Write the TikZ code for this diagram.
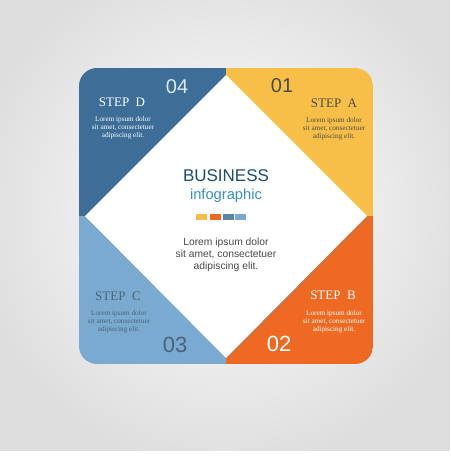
\documentclass[tikz,border=0pt]{standalone}
\usepackage{fontspec}
\setmainfont{Liberation Serif}
\newfontfamily\arialfont{Liberation Sans}
\usetikzlibrary{shadows}

\definecolor{stepA}{HTML}{F8BF48}
\definecolor{stepB}{HTML}{EE6A23}
\definecolor{stepC}{HTML}{7BAAD0}
\definecolor{stepD}{HTML}{3C6E98}
\definecolor{bizteal}{HTML}{1D4E6B}
\definecolor{infoblue}{HTML}{3B8EC2}
\definecolor{txtgray}{HTML}{4A4A4A}
\definecolor{slate}{HTML}{4A637A}
\definecolor{paleblue}{HTML}{DCE8F2}

\tikzset{
  steptitle/.style={font=\fontsize{13}{13}\selectfont, inner sep=0pt},
  steptext/.style={font=\fontsize{7.2}{8.2}\selectfont, align=center, inner sep=0pt},
  stepnum/.style={font=\arialfont\fontsize{20}{20}\selectfont, inner sep=0pt},
  bizsquare/.style={minimum width=11pt, minimum height=6pt, inner sep=0pt},
}

\begin{document}
\begin{tikzpicture}[x=1pt,y=-1pt]
  \useasboundingbox (0,0) rectangle (450,470);

  % background
  \fill[white] (0,0) rectangle (450,470);
  \begin{scope}
    \clip (0,0) rectangle (450,450);
    \shade[inner color=white, outer color=black!13] (-30,-50) rectangle (480,470);
  \end{scope}

  % four quadrants of the rounded square
  \begin{scope}
    \clip[rounded corners=18pt] (79,68) rectangle (373,364);
    \fill[stepD] (79,68) rectangle (226,216);
    \fill[stepA] (226,68) rectangle (373,216);
    \fill[stepC] (79,216) rectangle (226,364);
    \fill[stepB] (226,216) rectangle (373,364);
  \end{scope}

  % white diamond
  \fill[white, drop shadow={shadow xshift=1.5pt, shadow yshift=-2pt, opacity=.25}]
    (226,75) -- (367,216) -- (226,358) -- (85,216) -- cycle;

  % step D
  \node[stepnum, text=paleblue] (numD) at (177,87) {04};
  \node[steptitle, text=white] (titleD) at (122,102) {STEP\ \ D};
  \node[steptext, text=white] (textD) at (123,128) {Lorem ipsum dolor\\sit amet, consectetuer\\adipiscing elit.};

  % step A
  \node[stepnum, text=txtgray] (numA) at (282,86) {01};
  \node[steptitle, text=txtgray] (titleA) at (334,103) {STEP\ \ A};
  \node[steptext, text=txtgray] (textA) at (334,129) {Lorem ipsum dolor\\sit amet, consectetuer\\adipiscing elit.};

  % step C
  \node[steptitle, text=slate] (titleC) at (118,296) {STEP\ \ C};
  \node[steptext, text=slate] (textC) at (119,322) {Lorem ipsum dolor\\sit amet, consectetuer\\adipiscing elit.};
  \node[stepnum, text=slate, font=\arialfont\fontsize{22}{22}\selectfont] (numC) at (175,345) {03};

  % step B
  \node[steptitle, text=white] (titleB) at (333,295) {STEP\ \ B};
  \node[steptext, text=white] (textB) at (334,322) {Lorem ipsum dolor\\sit amet, consectetuer\\adipiscing elit.};
  \node[stepnum, text=white, font=\arialfont\fontsize{22}{22}\selectfont] (numB) at (279,344) {02};

  % centre
  \node[font=\arialfont\fontsize{17}{17}\selectfont, text=bizteal, inner sep=0pt] (business) at (226,176) {BUSINESS};
  \node[font=\arialfont\fontsize{14.7}{15}\selectfont, text=infoblue, inner sep=0pt] (infographic) at (226,196) {infographic};
  \node[bizsquare, fill=stepA] (sqA) at (201,217) {};
  \node[bizsquare, fill=stepB] (sqB) at (215,217) {};
  \node[bizsquare, fill=stepD!85!white] (sqD) at (228,217) {};
  \node[bizsquare, fill=stepC] (sqC) at (240,217) {};
  \node[font=\arialfont\fontsize{10.3}{12.3}\selectfont, text=txtgray, align=center, inner sep=0pt] (maintext) at (226,255) {Lorem ipsum dolor\\sit amet, consectetuer\\adipiscing elit.};

\end{tikzpicture}
\end{document}
